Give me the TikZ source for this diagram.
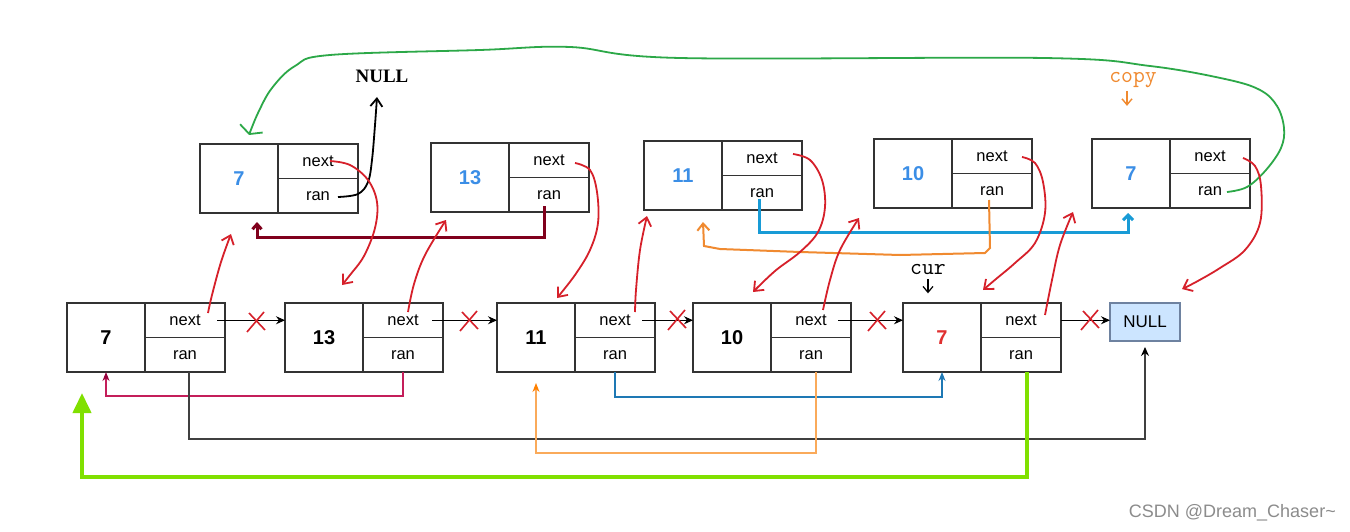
\documentclass[tikz,border=0pt]{standalone}
\usepackage{fontspec}
\setmainfont{Liberation Sans}
\newfontfamily\seriffam{Liberation Serif}
\usetikzlibrary{arrows.meta,calc}
\definecolor{boxc}{RGB}{51,51,51}
\definecolor{redpen}{RGB}{214,32,42}
\definecolor{greenpen}{RGB}{44,168,72}
\definecolor{darkredpen}{RGB}{128,0,28}
\definecolor{bluepen}{RGB}{24,155,214}
\definecolor{orangepen}{RGB}{240,138,48}
\definecolor{valblue}{RGB}{59,142,230}
\definecolor{valred}{RGB}{224,48,48}
\definecolor{crim}{RGB}{196,30,90}
\definecolor{crimdark}{RGB}{150,0,60}
\definecolor{lblue}{RGB}{30,120,180}
\definecolor{lorange}{RGB}{250,170,90}
\definecolor{dorange}{RGB}{255,128,0}
\definecolor{lgreen}{RGB}{128,224,0}
\definecolor{nullfill}{RGB}{204,229,255}
\definecolor{nullborder}{RGB}{110,130,160}
\definecolor{lgray}{RGB}{64,64,64}
\newcommand\lnode[5]{%
  \node[valcell,#5] (#1) at (#2,#3) {#4};
  \node[ptrcell] (#1-n) at (#1.north east) {next};
  \node[ptrcell] (#1-r) at (#1-n.south west) {ran};
}
\newcommand\xmark[3]{%
  \coordinate (#1) at (#2,#3);
  \draw[redpen,line width=1.6pt] ($(#1)+(-9,10)$) -- ($(#1)+(8,-10)$);
  \draw[redpen,line width=1.6pt] ($(#1)+(-7,-9)$) -- ($(#1)+(9,8)$);
}
\newcommand\boldtt{\ttfamily\addfontfeatures{FakeBold=2.5}}
\begin{document}
\begin{tikzpicture}[x=1pt,y=-1pt,
  valcell/.style={draw=boxc,line width=1.3pt,minimum width=78pt,minimum height=69pt,
    anchor=north west,inner sep=0pt,outer sep=0pt,font=\fontsize{20}{20}\selectfont\bfseries},
  ptrcell/.style={draw=boxc,line width=1.3pt,minimum width=80pt,minimum height=34.5pt,
    anchor=north west,inner sep=0pt,outer sep=0pt,font=\fontsize{16.5}{16.5}\selectfont},
  redcurve/.style={redpen,line width=1.8pt,-{Straight Barb[length=8pt,width=13pt]}},
  blk/.style={black,line width=1pt,-{Stealth[length=9pt,width=8pt]}},
  barb/.style={-{Straight Barb[length=6pt,width=10pt]}}
]
\useasboundingbox (0,0) rectangle (1350,532);
\fill[white] (0,0) rectangle (1350,532);

% bottom list
\lnode{A}{67}{303}{7}{}
\lnode{B}{285}{303}{13}{}
\lnode{C}{497}{303}{11}{}
\lnode{D}{693}{303}{10}{}
\lnode{E}{903}{303}{7}{text=valred}
\node[draw=nullborder,fill=nullfill,line width=1.2pt,minimum width=70pt,minimum height=38pt,
  anchor=north west,inner sep=0pt,outer sep=0pt,font=\fontsize{17}{17}\selectfont] (NUL) at (1110,303) {NULL};

% top copies
\lnode{T1}{200}{144}{7}{text=valblue}
\lnode{T2}{431}{143}{13}{text=valblue}
\lnode{T3}{644}{141}{11}{text=valblue}
\lnode{T4}{874}{139}{10}{text=valblue}
\lnode{T5}{1092}{139}{7}{text=valblue}

% labels
\node[font=\seriffam\bfseries\fontsize{19}{19}\selectfont,inner sep=0pt] (nulltop) at (382,76) {NULL};
\node[font=\boldtt\fontsize{23}{23}\selectfont,inner sep=1pt] (cur) at (928,270) {cur};
\draw[black,line width=1.2pt,barb] ($(cur.south)+(0,3)$) -- ++(0,14);
\node[font=\boldtt\fontsize{23}{23}\selectfont,text=orangepen,inner sep=1pt] (copy) at (1133,80) {copy};
\draw[orangepen,line width=1.4pt,barb] ($(copy.south)+(-6,2)$) -- ++(0,15);

% next arrows bottom
\draw[blk] ($(A-n.center)+(32,0)$) -- (B.west |- A-n.center);
\draw[blk] ($(B-n.center)+(29,0)$) -- (C.west |- B-n.center);
\draw[blk] ($(C-n.center)+(27,0)$) -- (D.west |- C-n.center);
\draw[blk] ($(D-n.center)+(27,0)$) -- (E.west |- D-n.center);
\draw[blk] (E-n.east) -- (NUL.west |- E-n.center);

% red crosses
\xmark{x1}{256}{322}
\xmark{x2}{469}{321}
\xmark{x3}{677}{320}
\xmark{x4}{877}{321}
\xmark{x5}{1090}{320}

% random pointers bottom
\draw[crim,line width=1.1pt,-{Stealth[length=9pt,width=7pt,color=crimdark]}]
  (B-r.south) -- ++(0,24) -| (A.south);
\draw[lgray,line width=1.3pt,-{Stealth[length=9pt,width=8pt,color=black]}]
  ($(A-r.south)+(4,0)$) -- ++(0,67) -| ($(NUL.south)+(0,6)$);
\draw[lblue,line width=1.1pt,-{Stealth[length=9pt,width=7pt]}]
  (C-r.south) -- ++(0,25) -| (E.south);
\draw[lorange,line width=1.1pt,-{Stealth[length=9pt,width=7pt,color=dorange]}]
  ($(D-r.south)+(5,0)$) -- ++(0,81) -| ($(C.south)+(0,11)$);
\draw[lgreen,line width=4pt,-{Triangle[length=20pt,width=18pt]}]
  ($(E-r.south)+(6,0)$) -- ++(0,105) -| ($(A.south west)+(15,21)$);

% random pointers top
\draw[darkredpen,line width=3pt,-{Straight Barb[length=5pt,width=9pt]}]
  (544,206) -- (544,237) -- (257,237) -- (257,222);
\draw[bluepen,line width=3pt,-{Straight Barb[length=5pt,width=10pt]}]
  (759,199) -- (759,232) -- (1128,232) -- (1128,213);
\draw[orangepen,line width=2pt,-{Straight Barb[length=7pt,width=12pt]}]
  (989,200) -- (990,248) -- (985,253) -- (900,255) -- (800,252) -- (720,249) -- (704,246) -- (703,222);

% black curve to NULL
\draw[black,line width=1.8pt,-{Straight Barb[length=8pt,width=12pt]}]
  plot[smooth,tension=0.6] coordinates {(338,197) (358,194) (368,182) (372,160) (375,125) (377,97)};

% green curve
\draw[greenpen,line width=1.8pt,-{Straight Barb[length=6pt,width=24pt]}]
  plot[smooth,tension=0.6] coordinates {(1227,192) (1247,187) (1266,170) (1281,148) (1284,128)
    (1277,106) (1260,90) (1225,79) (1150,66) (1044,58) (680,58) (570,47) (480,50) (330,55)
    (295,66) (272,88) (258,113) (249,135)};

% red next curves
\draw[redcurve] plot[smooth,tension=0.6] coordinates {(208,313) (212,295) (221,262) (231,234)};
\draw[redcurve] plot[smooth,tension=0.6] coordinates {(330,161) (350,165) (368,180) (377,202) (375,228) (364,256) (350,275) (342,285)};
\draw[redcurve] plot[smooth,tension=0.6] coordinates {(408,312) (414,284) (425,255) (446,220)};
\draw[redcurve] plot[smooth,tension=0.6] coordinates {(575,163) (590,170) (597,192) (598,223) (590,250) (575,275) (557,298)};
\draw[redcurve] plot[smooth,tension=0.6] coordinates {(635,312) (636,290) (640,250) (647,216)};
\draw[redcurve] plot[smooth,tension=0.6] coordinates {(793,154) (810,160) (822,180) (825,207) (818,232) (800,252) (775,271) (753,292)};
\draw[redcurve] plot[smooth,tension=0.6] coordinates {(823,310) (830,280) (840,250) (859,218)};
\draw[redcurve] plot[smooth,tension=0.6] coordinates {(1022,157) (1035,163) (1043,182) (1045,213) (1035,243) (1015,263) (996,279) (983,290)};
\draw[redcurve] plot[smooth,tension=0.6] coordinates {(1045,315) (1052,280) (1060,245) (1073,212)};
\draw[redcurve] plot[smooth,tension=0.6] coordinates {(1243,158) (1255,166) (1261,186) (1260,223) (1245,250) (1220,268) (1196,282) (1182,289)};

% watermark
\node[font=\fontsize{18}{18}\selectfont,text=black!45,anchor=east,inner sep=0pt] (wm) at (1336,513) {CSDN @Dream\_Chaser\textasciitilde};
\end{tikzpicture}
\end{document}
